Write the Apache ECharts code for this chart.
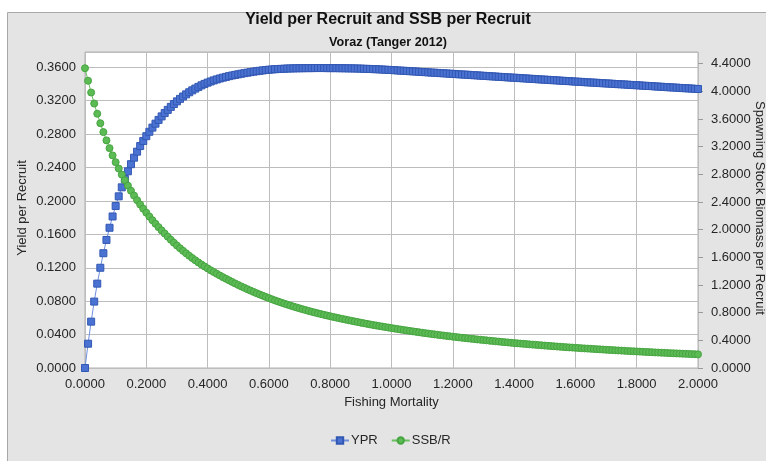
<!DOCTYPE html>
<html>
<head>
<meta charset="utf-8">
<title>Yield per Recruit and SSB per Recruit</title>
<script src="https://cdn.jsdelivr.net/npm/echarts@6/dist/echarts.min.js"></script>
<style>
  html, body { margin: 0; padding: 0; background: #ffffff; }
  #chart { width: 766px; height: 461px; }
</style>
</head>
<body>
<div id="chart"></div>
<script>
// Fishing mortality (F) grid
const fishingMortality = [
  0.00, 0.01, 0.02, 0.03, 0.04, 0.05, 0.06, 0.07, 0.08, 0.09,
  0.10, 0.11, 0.12, 0.13, 0.14, 0.15, 0.16, 0.17, 0.18, 0.19,
  0.20, 0.21, 0.22, 0.23, 0.24, 0.25, 0.26, 0.27, 0.28, 0.29,
  0.30, 0.31, 0.32, 0.33, 0.34, 0.35, 0.36, 0.37, 0.38, 0.39,
  0.40, 0.41, 0.42, 0.43, 0.44, 0.45, 0.46, 0.47, 0.48, 0.49,
  0.50, 0.51, 0.52, 0.53, 0.54, 0.55, 0.56, 0.57, 0.58, 0.59,
  0.60, 0.61, 0.62, 0.63, 0.64, 0.65, 0.66, 0.67, 0.68, 0.69,
  0.70, 0.71, 0.72, 0.73, 0.74, 0.75, 0.76, 0.77, 0.78, 0.79,
  0.80, 0.81, 0.82, 0.83, 0.84, 0.85, 0.86, 0.87, 0.88, 0.89,
  0.90, 0.91, 0.92, 0.93, 0.94, 0.95, 0.96, 0.97, 0.98, 0.99,
  1.00, 1.01, 1.02, 1.03, 1.04, 1.05, 1.06, 1.07, 1.08, 1.09,
  1.10, 1.11, 1.12, 1.13, 1.14, 1.15, 1.16, 1.17, 1.18, 1.19,
  1.20, 1.21, 1.22, 1.23, 1.24, 1.25, 1.26, 1.27, 1.28, 1.29,
  1.30, 1.31, 1.32, 1.33, 1.34, 1.35, 1.36, 1.37, 1.38, 1.39,
  1.40, 1.41, 1.42, 1.43, 1.44, 1.45, 1.46, 1.47, 1.48, 1.49,
  1.50, 1.51, 1.52, 1.53, 1.54, 1.55, 1.56, 1.57, 1.58, 1.59,
  1.60, 1.61, 1.62, 1.63, 1.64, 1.65, 1.66, 1.67, 1.68, 1.69,
  1.70, 1.71, 1.72, 1.73, 1.74, 1.75, 1.76, 1.77, 1.78, 1.79,
  1.80, 1.81, 1.82, 1.83, 1.84, 1.85, 1.86, 1.87, 1.88, 1.89,
  1.90, 1.91, 1.92, 1.93, 1.94, 1.95, 1.96, 1.97, 1.98, 1.99,
  2.00
];

// Yield per recruit (left axis)
const yieldPerRecruit = [
  0.0000, 0.0291, 0.0555, 0.0795, 0.1010, 0.1200, 0.1374, 0.1533, 0.1679, 0.1814,
  0.1939, 0.2055, 0.2163, 0.2263, 0.2355, 0.2440, 0.2518, 0.2590, 0.2657, 0.2718,
  0.2775, 0.2828, 0.2878, 0.2925, 0.2970, 0.3012, 0.3052, 0.3090, 0.3126, 0.3160,
  0.3192, 0.3222, 0.3250, 0.3276, 0.3301, 0.3324, 0.3345, 0.3365, 0.3384, 0.3401,
  0.3416, 0.3430, 0.3443, 0.3455, 0.3466, 0.3476, 0.3485, 0.3494, 0.3502, 0.3509,
  0.3516, 0.3523, 0.3530, 0.3536, 0.3542, 0.3548, 0.3553, 0.3558, 0.3563, 0.3567,
  0.3571, 0.3574, 0.3577, 0.3579, 0.3581, 0.3583, 0.3585, 0.3586, 0.3587, 0.3588,
  0.3589, 0.3589, 0.3590, 0.3590, 0.3590, 0.3591, 0.3591, 0.3591, 0.3591, 0.3590,
  0.3590, 0.3590, 0.3590, 0.3589, 0.3589, 0.3588, 0.3587, 0.3587, 0.3586, 0.3585,
  0.3584, 0.3582, 0.3581, 0.3580, 0.3578, 0.3577, 0.3575, 0.3573, 0.3571, 0.3569,
  0.3567, 0.3565, 0.3562, 0.3560, 0.3558, 0.3556, 0.3553, 0.3551, 0.3549, 0.3546,
  0.3544, 0.3542, 0.3539, 0.3537, 0.3535, 0.3533, 0.3530, 0.3528, 0.3526, 0.3523,
  0.3521, 0.3519, 0.3516, 0.3514, 0.3512, 0.3510, 0.3507, 0.3505, 0.3503, 0.3500,
  0.3498, 0.3496, 0.3493, 0.3491, 0.3489, 0.3486, 0.3484, 0.3482, 0.3479, 0.3477,
  0.3475, 0.3473, 0.3470, 0.3468, 0.3466, 0.3463, 0.3461, 0.3459, 0.3456, 0.3454,
  0.3452, 0.3450, 0.3447, 0.3445, 0.3443, 0.3440, 0.3438, 0.3436, 0.3434, 0.3431,
  0.3429, 0.3427, 0.3425, 0.3422, 0.3420, 0.3418, 0.3416, 0.3414, 0.3411, 0.3409,
  0.3407, 0.3405, 0.3403, 0.3400, 0.3398, 0.3396, 0.3394, 0.3392, 0.3389, 0.3387,
  0.3385, 0.3383, 0.3380, 0.3378, 0.3376, 0.3374, 0.3371, 0.3369, 0.3367, 0.3364,
  0.3362, 0.3360, 0.3358, 0.3356, 0.3353, 0.3351, 0.3349, 0.3347, 0.3345, 0.3342,
  0.3340
];

// Spawning stock biomass per recruit (right axis)
const ssbPerRecruit = [
  4.3330, 4.1520, 3.9820, 3.8230, 3.6750, 3.5380, 3.4100, 3.2900, 3.1780, 3.0730,
  2.9750, 2.8830, 2.7960, 2.7140, 2.6360, 2.5620, 2.4920, 2.4260, 2.3630, 2.3030,
  2.2450, 2.1890, 2.1360, 2.0850, 2.0360, 1.9890, 1.9430, 1.8980, 1.8540, 1.8110,
  1.7700, 1.7310, 1.6930, 1.6570, 1.6220, 1.5890, 1.5570, 1.5260, 1.4960, 1.4680,
  1.4400, 1.4130, 1.3870, 1.3620, 1.3375, 1.3135, 1.2900, 1.2670, 1.2445, 1.2220,
  1.2000, 1.1790, 1.1585, 1.1385, 1.1190, 1.1000, 1.0812, 1.0628, 1.0448, 1.0273,
  1.0100, 0.9932, 0.9769, 0.9611, 0.9458, 0.9309, 0.9164, 0.9023, 0.8885, 0.8751,
  0.8620, 0.8492, 0.8367, 0.8245, 0.8127, 0.8012, 0.7900, 0.7791, 0.7685, 0.7581,
  0.7480, 0.7381, 0.7284, 0.7188, 0.7094, 0.7001, 0.6909, 0.6818, 0.6728, 0.6639,
  0.6550, 0.6465, 0.6382, 0.6301, 0.6221, 0.6143, 0.6066, 0.5990, 0.5916, 0.5843,
  0.5770, 0.5698, 0.5628, 0.5559, 0.5491, 0.5424, 0.5358, 0.5293, 0.5228, 0.5164,
  0.5100, 0.5039, 0.4979, 0.4920, 0.4862, 0.4805, 0.4748, 0.4692, 0.4637, 0.4583,
  0.4530, 0.4477, 0.4425, 0.4374, 0.4324, 0.4275, 0.4226, 0.4178, 0.4131, 0.4085,
  0.4040, 0.3994, 0.3949, 0.3905, 0.3861, 0.3818, 0.3775, 0.3733, 0.3691, 0.3650,
  0.3610, 0.3571, 0.3532, 0.3494, 0.3456, 0.3419, 0.3382, 0.3346, 0.3310, 0.3275,
  0.3240, 0.3206, 0.3172, 0.3139, 0.3106, 0.3074, 0.3042, 0.3011, 0.2980, 0.2950,
  0.2920, 0.2890, 0.2861, 0.2832, 0.2804, 0.2776, 0.2748, 0.2721, 0.2694, 0.2667,
  0.2640, 0.2614, 0.2588, 0.2562, 0.2537, 0.2512, 0.2487, 0.2462, 0.2438, 0.2414,
  0.2390, 0.2367, 0.2344, 0.2321, 0.2299, 0.2277, 0.2255, 0.2233, 0.2212, 0.2191,
  0.2170, 0.2149, 0.2128, 0.2108, 0.2088, 0.2068, 0.2048, 0.2028, 0.2008, 0.1989,
  0.1970
];

// Axis tick values
const fTicks = [0, 0.2, 0.4, 0.6, 0.8, 1.0, 1.2, 1.4, 1.6, 1.8, 2.0];
const yprTicks = [0, 0.04, 0.08, 0.12, 0.16, 0.20, 0.24, 0.28, 0.32, 0.36];
const ssbTicks = [0, 0.4, 0.8, 1.2, 1.6, 2.0, 2.4, 2.8, 3.2, 3.6, 4.0, 4.4];

const FONT = '"Liberation Sans", Arial, sans-serif';
const TEXT = '#262626';
const GRID_LINE = '#bdbdbd';

const ypr = fishingMortality.map((f, i) => [f, yieldPerRecruit[i]]);
const ssb = fishingMortality.map((f, i) => [f, ssbPerRecruit[i]]);
const fmt4 = v => Number(v).toFixed(4);

const chart = echarts.init(document.getElementById('chart'), null, { renderer: 'canvas' });

chart.setOption({
  animation: false,
  backgroundColor: '#ffffff',
  textStyle: { fontFamily: FONT },
  graphic: [{
    // chart frame
    type: 'rect',
    z: -10,
    silent: true,
    shape: { x: 7.5, y: 12.5, width: 770, height: 460 },
    style: { fill: '#e4e4e4', stroke: '#a8a8a8', lineWidth: 1 }
  }, {
    // left axis title
    type: 'text',
    x: 22, y: 208,
    rotation: Math.PI / 2,
    silent: true,
    style: {
      text: 'Yield per Recruit', align: 'center', verticalAlign: 'middle',
      font: '13px "Liberation Sans", Arial, sans-serif', fill: TEXT
    }
  }, {
    // right axis title
    type: 'text',
    x: 760, y: 208,
    rotation: -Math.PI / 2,
    silent: true,
    style: {
      text: 'Spawning Stock Biomass per Recruit', align: 'center', verticalAlign: 'middle',
      font: '13px "Liberation Sans", Arial, sans-serif', fill: TEXT
    }
  }],
  title: [{
    text: 'Yield per Recruit and SSB per Recruit',
    left: 388, top: 12, textAlign: 'center', padding: 0,
    textStyle: { fontFamily: FONT, fontSize: 16, fontWeight: 'bold', color: '#111' }
  }, {
    text: 'Voraz (Tanger 2012)',
    left: 388, top: 36, textAlign: 'center', padding: 0,
    textStyle: { fontFamily: FONT, fontSize: 12.6, fontWeight: 'bold', color: '#111' }
  }],
  legend: {
    data: ['YPR', 'SSB/R'],
    left: 330, top: 434,
    itemWidth: 18, itemHeight: 8, itemGap: 13, padding: 0,
    textStyle: { fontFamily: FONT, fontSize: 13, color: TEXT, padding: [0, 0, 0, -3] }
  },
  grid: {
    left: 85, right: 68, top: 52, bottom: 93,
    outerBoundsMode: 'none',
    show: true, backgroundColor: '#ffffff', borderColor: '#b0b0b0', borderWidth: 1
  },
  xAxis: {
    type: 'value',
    min: fTicks[0], max: fTicks[fTicks.length - 1], interval: 0.2,
    name: 'Fishing Mortality', nameLocation: 'middle', nameGap: 28,
    nameTextStyle: { fontFamily: FONT, fontSize: 13, color: TEXT },
    axisLine: { show: false },
    axisTick: { show: false },
    axisLabel: { formatter: fmt4, fontFamily: FONT, fontSize: 13, color: TEXT, margin: 10 },
    splitLine: { show: true, lineStyle: { color: GRID_LINE, width: 1 } }
  },
  yAxis: [{
    type: 'value', position: 'left',
    min: yprTicks[0], max: 0.3783, interval: 0.04,
    axisLine: { show: false },
    axisTick: { show: false },
    axisLabel: {
      formatter: fmt4, fontFamily: FONT, fontSize: 13, color: TEXT, margin: 9,
      customValues: yprTicks
    },
    splitLine: { show: true, lineStyle: { color: GRID_LINE, width: 1 } }
  }, {
    type: 'value', position: 'right',
    min: ssbTicks[0], max: 4.5675, interval: 0.4,
    axisLine: { show: false },
    axisTick: { show: true, inside: false, length: 5, lineStyle: { color: '#9a9a9a' }, customValues: ssbTicks },
    axisLabel: {
      formatter: fmt4, fontFamily: FONT, fontSize: 13, color: TEXT, margin: 13,
      customValues: ssbTicks
    },
    splitLine: { show: false }
  }],
  series: [{
    name: 'YPR',
    type: 'line',
    yAxisIndex: 0,
    data: ypr,
    symbol: 'rect',
    symbolSize: 7,
    showAllSymbol: true,
    lineStyle: { color: '#6f8fdc', width: 1 },
    itemStyle: { color: '#4a72d2', borderColor: '#3358b3', borderWidth: 1 }
  }, {
    name: 'SSB/R',
    type: 'line',
    yAxisIndex: 1,
    data: ssb,
    symbol: 'circle',
    symbolSize: 7,
    showAllSymbol: true,
    lineStyle: { color: '#68c060', width: 1 },
    itemStyle: { color: '#5cbb55', borderColor: '#47a541', borderWidth: 1 }
  }]
});
</script>
</body>
</html>
